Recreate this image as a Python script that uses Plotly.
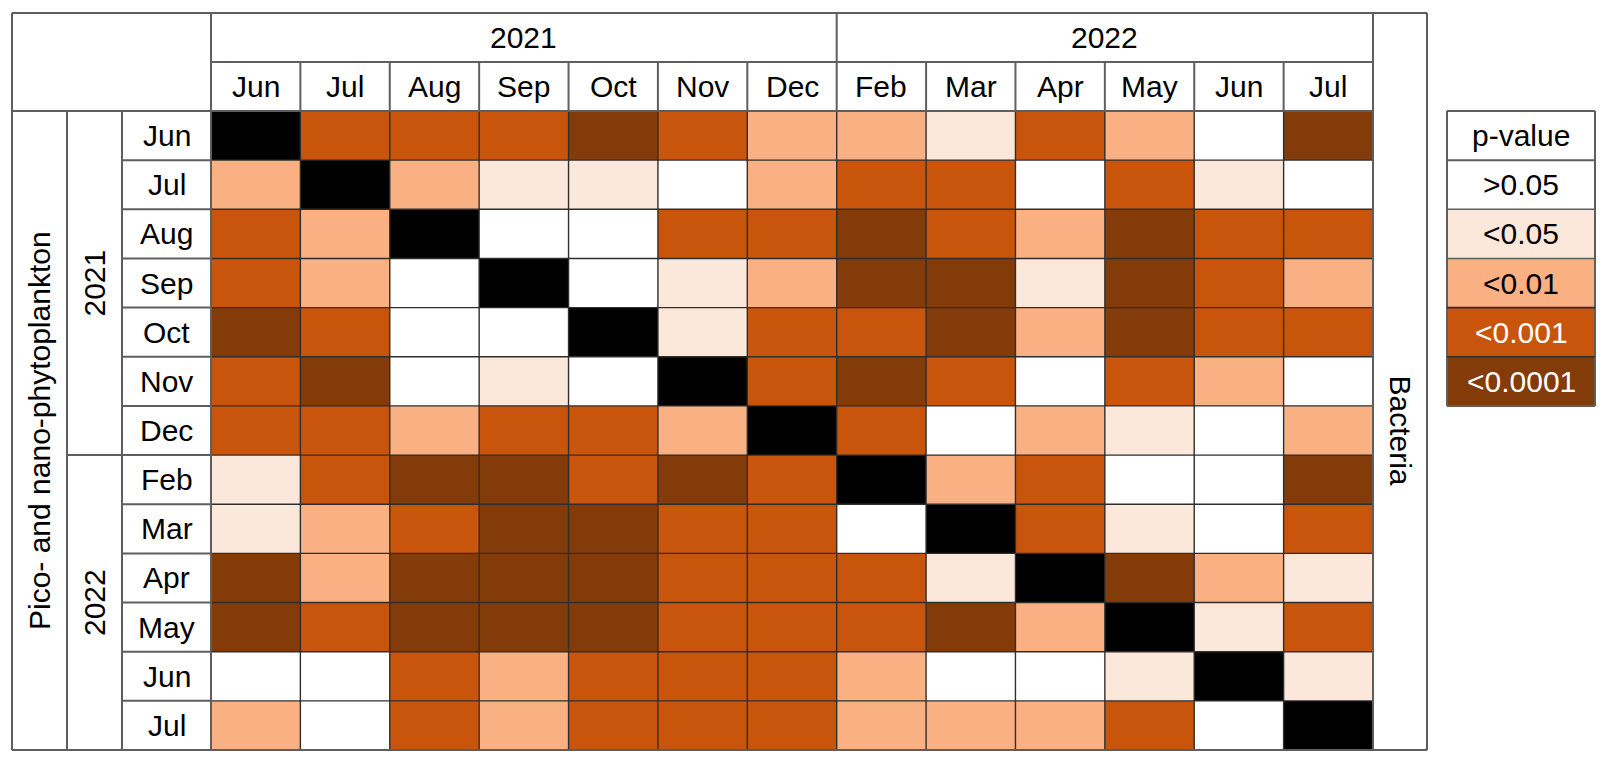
import plotly.graph_objects as go

# ---------------- data ----------------
months_2021 = ["Jun", "Jul", "Aug", "Sep", "Oct", "Nov", "Dec"]
months_2022 = ["Feb", "Mar", "Apr", "May", "Jun", "Jul"]
year_labels = ["2021", "2022"]
row_group_title = "Pico- and nano-phytoplankton"
col_group_title = "Bacteria"
legend_title = "p-value"
p_classes = [">0.05", "<0.05", "<0.01", "<0.001", "<0.0001"]
p_codes = [0, 1, 2, 3, 4]

# codes: 0 >0.05, 1 <0.05, 2 <0.01, 3 <0.001, 4 <0.0001, 5 = diagonal (same month)
# rows: pico-/nano-phytoplankton month, columns: bacteria month
sig_codes = [
    [5, 3, 3, 3, 4, 3, 2, 2, 1, 3, 2, 0, 4],
    [2, 5, 2, 1, 1, 0, 2, 3, 3, 0, 3, 1, 0],
    [3, 2, 5, 0, 0, 3, 3, 4, 3, 2, 4, 3, 3],
    [3, 2, 0, 5, 0, 1, 2, 4, 4, 1, 4, 3, 2],
    [4, 3, 0, 0, 5, 1, 3, 3, 4, 2, 4, 3, 3],
    [3, 4, 0, 1, 0, 5, 3, 4, 3, 0, 3, 2, 0],
    [3, 3, 2, 3, 3, 2, 5, 3, 0, 2, 1, 0, 2],
    [1, 3, 4, 4, 3, 4, 3, 5, 2, 3, 0, 0, 4],
    [1, 2, 3, 4, 4, 3, 3, 0, 5, 3, 1, 0, 3],
    [4, 2, 4, 4, 4, 3, 3, 3, 1, 5, 4, 2, 1],
    [4, 3, 4, 4, 4, 3, 3, 3, 4, 2, 5, 1, 3],
    [0, 0, 3, 2, 3, 3, 3, 2, 0, 0, 1, 5, 1],
    [2, 0, 3, 2, 3, 3, 3, 2, 2, 2, 3, 0, 5],
]

months = months_2021 + months_2022
n = len(months)
idx = list(range(n))

# ---------------- styles ----------------
class_colors = ["#FFFFFF", "#FCE8DA", "#F9B184", "#C8550B", "#843B0A", "#000000"]
FONT = "Liberation Sans, Arial, sans-serif"
FS = 30
FRAME = "#5E5E5E"
INNER = "#2E2E2E"

ncls = len(class_colors)
cscale = []
for i, c in enumerate(class_colors):
    cscale.append([i / ncls, c])
    cscale.append([(i + 1) / ncls, c])

# page geometry (default body margin of 8px)
OFF = 8
W, H = 1596, 746


def fx(p):
    return (p - OFF) / W


def fy(p):
    return 1 - (p - OFF) / H


# table layout in page pixels
L0, L1, L2, L3 = 12, 67, 122, 211
R0, R1 = 1373, 1427
T0, T1, T2, B0 = 13, 62, 111, 750
LG_L, LG_R = 1447, 1595
rowh = (B0 - T2) / n
LG_B = T2 + rowh * (len(p_classes) + 1)

fig = go.Figure()

fig.add_trace(go.Heatmap(
    z=sig_codes, x=idx, y=idx,
    colorscale=cscale, zmin=-0.5, zmax=ncls - 0.5,
    showscale=False, hoverinfo="skip",
    xaxis="x", yaxis="y",
))

fig.add_trace(go.Heatmap(
    z=[[c] for c in p_codes], x=[0], y=list(range(len(p_codes))),
    colorscale=cscale, zmin=-0.5, zmax=ncls - 0.5,
    showscale=False, hoverinfo="skip",
    xaxis="x2", yaxis="y2",
))

ax_common = dict(showgrid=False, zeroline=False, showticklabels=False,
                 ticks="", showline=False, fixedrange=True)
fig.update_layout(
    width=W, height=H,
    margin=dict(l=0, r=0, t=0, b=0),
    paper_bgcolor="white", plot_bgcolor="white",
    font=dict(family=FONT, size=FS, color="#000000"),
    xaxis=dict(domain=[fx(L3), fx(R0)], range=[-0.5, n - 0.5], **ax_common),
    yaxis=dict(domain=[fy(B0), fy(T2)], range=[n - 0.5, -0.5], **ax_common),
    xaxis2=dict(domain=[fx(LG_L), fx(LG_R)], range=[-0.5, 0.5], anchor="y2", **ax_common),
    yaxis2=dict(domain=[fy(LG_B), fy(T2 + rowh)], range=[len(p_codes) - 0.5, -0.5],
                anchor="x2", **ax_common),
    showlegend=False,
)

shapes = []


def pline(x0, y0, x1, y1, color=FRAME, w=2):
    shapes.append(dict(type="line", xref="paper", yref="paper",
                       x0=fx(x0), y0=fy(y0), x1=fx(x1), y1=fy(y1),
                       line=dict(color=color, width=w), layer="above"))


# matrix inner lines (data coords)
for k in range(n - 1):
    shapes.append(dict(type="line", xref="x", yref="paper", x0=k + 0.5, x1=k + 0.5,
                       y0=fy(B0), y1=fy(T2), line=dict(color=INNER, width=1.4), layer="above"))
    shapes.append(dict(type="line", xref="paper", yref="y", x0=fx(L3), x1=fx(R0),
                       y0=k + 0.5, y1=k + 0.5, line=dict(color=INNER, width=1.4), layer="above"))
    # header month separators
    shapes.append(dict(type="line", xref="x", yref="paper", x0=k + 0.5, x1=k + 0.5,
                       y0=fy(T2), y1=fy(T1), line=dict(color=FRAME, width=2), layer="above"))
    # row label separators
    shapes.append(dict(type="line", xref="paper", yref="y", x0=fx(L2), x1=fx(L3),
                       y0=k + 0.5, y1=k + 0.5, line=dict(color=FRAME, width=2), layer="above"))

n21 = len(months_2021)
# year separators
shapes.append(dict(type="line", xref="x", yref="paper", x0=n21 - 0.5, x1=n21 - 0.5,
                   y0=fy(T1), y1=fy(T0), line=dict(color=FRAME, width=2), layer="above"))
shapes.append(dict(type="line", xref="paper", yref="y", x0=fx(L1), x1=fx(L2),
                   y0=n21 - 0.5, y1=n21 - 0.5, line=dict(color=FRAME, width=2), layer="above"))

# frame
pline(L0, T0, R1, T0)
pline(L0, B0, R1, B0)
pline(L0, T0, L0, B0)
pline(R1, T0, R1, B0)
pline(L3, T0, L3, B0)
pline(R0, T0, R0, B0)
pline(L0, T2, R0, T2)
pline(L3, T1, R0, T1)
pline(L1, T2, L1, B0)
pline(L2, T2, L2, B0)

# legend frame
pline(LG_L, T2, LG_R, T2)
pline(LG_L, LG_B, LG_R, LG_B)
pline(LG_L, T2, LG_L, LG_B)
pline(LG_R, T2, LG_R, LG_B)
pline(LG_L, T2 + rowh, LG_R, T2 + rowh)
for k in range(len(p_codes) - 1):
    shapes.append(dict(type="line", xref="paper", yref="y2", x0=fx(LG_L), x1=fx(LG_R),
                       y0=k + 0.5, y1=k + 0.5,
                       line=dict(color=FRAME if k < 2 else INNER, width=1.6), layer="above"))

fig.update_layout(shapes=shapes)

ann = []
# column month labels
for i, m in enumerate(months):
    ann.append(dict(x=i, y=fy((T1 + T2) / 2), xref="x", yref="paper", text=m,
                    showarrow=False, xanchor="center", yanchor="middle"))
# row month labels
for i, m in enumerate(months):
    ann.append(dict(x=fx((L2 + L3) / 2), y=i, xref="paper", yref="y", text=m,
                    showarrow=False, xanchor="center", yanchor="middle"))
# year labels (top and side)
year_spans = [(0, n21 - 1), (n21, n - 1)]
for lab, (a, b) in zip(year_labels, year_spans):
    ann.append(dict(x=(a + b) / 2, y=fy((T0 + T1) / 2), xref="x", yref="paper", text=lab,
                    showarrow=False, xanchor="center", yanchor="middle"))
    ann.append(dict(x=fx((L1 + L2) / 2), y=(a + b) / 2, xref="paper", yref="y", text=lab,
                    textangle=-90, showarrow=False, xanchor="center", yanchor="middle"))
# group titles
ann.append(dict(x=fx((L0 + L1) / 2), y=fy((T2 + B0) / 2), xref="paper", yref="paper",
                text=row_group_title, textangle=-90, showarrow=False,
                xanchor="center", yanchor="middle"))
ann.append(dict(x=fx((R0 + R1) / 2), y=fy((T2 + B0) / 2), xref="paper", yref="paper",
                text=col_group_title, textangle=90, showarrow=False,
                xanchor="center", yanchor="middle"))
# legend
ann.append(dict(x=fx((LG_L + LG_R) / 2), y=fy(T2 + rowh / 2), xref="paper", yref="paper",
                text=legend_title, showarrow=False, xanchor="center", yanchor="middle"))
for c, lab in zip(p_codes, p_classes):
    ann.append(dict(x=0, y=c, xref="x2", yref="y2", text=lab, showarrow=False,
                    xanchor="center", yanchor="middle",
                    font=dict(color="#FFFFFF" if c >= 3 else "#000000")))

fig.update_layout(annotations=ann)

fig.write_html("out.html", config={"displayModeBar": False, "staticPlot": True})
